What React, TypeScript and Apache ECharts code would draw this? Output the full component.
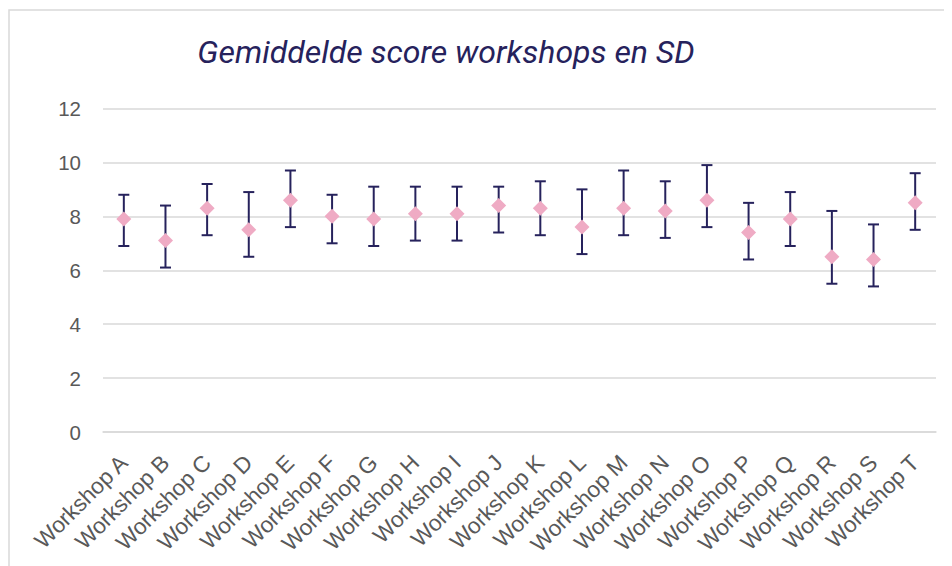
import React, { useEffect, useRef } from "react";
import * as echarts from "echarts";

const categories = [
  "Workshop A", "Workshop B", "Workshop C", "Workshop D", "Workshop E",
  "Workshop F", "Workshop G", "Workshop H", "Workshop I", "Workshop J",
  "Workshop K", "Workshop L", "Workshop M", "Workshop N", "Workshop O",
  "Workshop P", "Workshop Q", "Workshop R", "Workshop S", "Workshop T",
];
const means = [7.9, 7.1, 8.3, 7.5, 8.6, 8.0, 7.9, 8.1, 8.1, 8.4, 8.3, 7.6, 8.3, 8.2, 8.6, 7.4, 7.9, 6.5, 6.4, 8.5];
const upper = [8.8, 8.4, 9.2, 8.9, 9.7, 8.8, 9.1, 9.1, 9.1, 9.1, 9.3, 9.0, 9.7, 9.3, 9.9, 8.5, 8.9, 8.2, 7.7, 9.6];
const lower = [6.9, 6.1, 7.3, 6.5, 7.6, 7.0, 6.9, 7.1, 7.1, 7.4, 7.3, 6.6, 7.3, 7.2, 7.6, 6.4, 6.9, 5.5, 5.4, 7.5];
const title = "Gemiddelde score workshops en SD";

const NAVY = "#26225c";
const PINK = "#efabc4";
const GRID = "#d9d9d9";
const LABEL = "#595959";

export default function App() {
  const ref = useRef<HTMLDivElement>(null);
  useEffect(() => {
    if (!ref.current) return;
    const chart = echarts.init(ref.current, undefined, { renderer: "svg" });
    const errData = categories.map((_, i) => [i, lower[i], upper[i]]);
    chart.setOption({
      animation: false,
      backgroundColor: "#ffffff",
      title: {
        text: title,
        left: 433,
        top: 23,
        textAlign: "center",
        textStyle: {
          fontFamily: "Roboto",
          fontStyle: "italic",
          fontWeight: "normal",
          fontSize: 32,
          color: NAVY,
        },
      },
      graphic: [
        {
          type: "rect",
          shape: { x: 1, y: 2, width: 1200, height: 1000 },
          style: { fill: "none", stroke: GRID, lineWidth: 1.5 },
          silent: true,
          z: -10,
        },
      ],
      grid: { left: 95, right: 16, top: 100.5, bottom: 134, containLabel: false },
      xAxis: {
        type: "category",
        data: categories,
        boundaryGap: true,
        axisLine: { show: true, lineStyle: { color: GRID, width: 1.5 } },
        axisTick: { show: false },
        axisLabel: {
          rotate: 45,
          interval: 0,
          margin: 27,
          color: LABEL,
          fontSize: 22.5,
          fontFamily: "Liberation Sans",
        },
      },
      yAxis: {
        type: "value",
        min: 0,
        max: 12,
        interval: 2,
        axisLine: { show: false },
        axisTick: { show: false },
        splitLine: { lineStyle: { color: GRID, width: 1.5 } },
        axisLabel: {
          margin: 22,
          color: LABEL,
          fontSize: 20.5,
          fontFamily: "Liberation Sans",
        },
      },
      series: [
        {
          type: "custom",
          name: "SD",
          data: errData,
          encode: { x: 0, y: [1, 2] },
          z: 2,
          renderItem: (params: any, api: any) => {
            const x = api.value(0);
            const lo = api.coord([x, api.value(1)]);
            const hi = api.coord([x, api.value(2)]);
            const hw = 5.5;
            const style = { stroke: NAVY, lineWidth: 2 };
            return {
              type: "group",
              children: [
                { type: "line", shape: { x1: lo[0], y1: lo[1], x2: hi[0], y2: hi[1] }, style },
                { type: "line", shape: { x1: hi[0] - hw, y1: hi[1], x2: hi[0] + hw, y2: hi[1] }, style },
                { type: "line", shape: { x1: lo[0] - hw, y1: lo[1], x2: lo[0] + hw, y2: lo[1] }, style },
              ],
            };
          },
        },
        {
          type: "scatter",
          name: "Gemiddelde",
          data: means,
          symbol: "diamond",
          symbolSize: [15, 15],
          z: 5,
          itemStyle: { color: PINK, opacity: 1 },
        },
      ],
    });
    return () => chart.dispose();
  }, []);
  return <div ref={ref} style={{ width: 944, height: 558 }} />;
}
